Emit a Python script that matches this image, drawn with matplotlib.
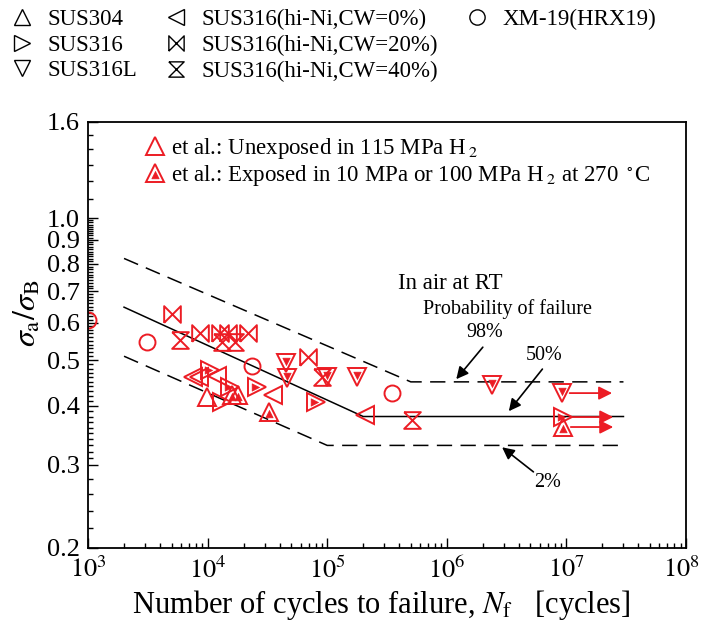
import numpy as np
import matplotlib
matplotlib.use('Agg')
import matplotlib.pyplot as plt
import matplotlib.transforms as mtransforms
from matplotlib.lines import Line2D
from matplotlib.ticker import FixedLocator, NullFormatter, LogLocator

plt.rcParams['font.family'] = 'serif'
plt.rcParams['font.serif'] = ['Liberation Serif', 'DejaVu Serif']
plt.rcParams['mathtext.fontset'] = 'stix'

RED = '#ec1c24'

# ---- data (N cycles, sigma_a/sigma_B) ----
# SUS304
sus304_open_N = [9.9e3]
sus304_open_S = [0.418]
sus304_exp_N = [1.6e4, 1.79e4, 3.25e4, 9.3e6]
sus304_exp_S = [0.422, 0.422, 0.388, 0.361]
# SUS316
sus316_open_N = [1.32e4]
sus316_open_S = [0.408]
sus316_exp_N = [1.04e4, 1.53e4, 2.58e4, 8.0e4, 9.3e6]
sus316_exp_S = [0.477, 0.439, 0.439, 0.408, 0.379]
# SUS316L
sus316l_exp_N = [4.5e4, 4.6e4, 9.9e4, 1.77e5, 2.37e6, 9.1e6]
sus316l_exp_S = [0.493, 0.459, 0.461, 0.461, 0.443, 0.426]
# SUS316 hi-Ni CW=0%
cw0_N = [7.5e3, 8.4e3, 1.2e4, 3.5e4, 2.06e5]
cw0_S = [0.461, 0.461, 0.463, 0.422, 0.383]
# SUS316 hi-Ni CW=20%
cw20_N = [5.0e3, 8.6e3, 1.27e4, 1.48e4, 2.17e4, 6.9e4]
cw20_S = [0.627, 0.571, 0.571, 0.571, 0.571, 0.508]
# SUS316 hi-Ni CW=40%
cw40_N = [5.9e3, 1.32e4, 1.69e4, 9.0e4, 5.1e5]
cw40_S = [0.552, 0.547, 0.547, 0.461, 0.374]
# XM-19
xm19_N = [1.0e3, 3.1e3, 2.34e4, 3.5e5]
xm19_S = [0.608, 0.547, 0.486, 0.426]

# run-outs (arrows)
runout_N = [9.1e6, 9.3e6, 9.3e6]
runout_S = [0.426, 0.379, 0.361]

# S-N curves in air (probability of failure)
p98_N = [2e3, 5e5, 3e7]
p98_S = [0.822, 0.45, 0.45]
p50_N = [2e3, 2e5, 3e7]
p50_S = [0.648, 0.38, 0.38]
p02_N = [2e3, 1e5, 3e7]
p02_S = [0.51, 0.33, 0.33]

xtick_vals = [1e3, 1e4, 1e5, 1e6, 1e7, 1e8]
xtick_labels = [r'$10^{3}$', r'$10^{4}$', r'$10^{5}$', r'$10^{6}$', r'$10^{7}$', r'$10^{8}$']
ytick_vals = [0.2, 0.3, 0.4, 0.5, 0.6, 0.7, 0.8, 0.9, 1.0, 1.6]
ytick_labels = ['0.2', '0.3', '0.4', '0.5', '0.6', '0.7', '0.8', '0.9', '1.0', '1.6']

# ---- marker shapes ----
BOWTIE = [(-1, -1), (-1, 1), (1, -1), (1, 1), (-1, -1)]
HOURGLASS = [(-1, 1), (1, 1), (-1, -1), (1, -1), (-1, 1)]
TRI = {'^': [(0, 1), (-1, -1), (1, -1)],
       'v': [(0, -1), (-1, 1), (1, 1)],
       '>': [(1, 0), (-1, -1), (-1, 1)],
       '<': [(-1, 0), (1, -1), (1, 1)]}

MS = 12.5
MEW = 1.4


def inner_marker(kind, k=0.42):
    v = np.array(TRI[kind], dtype=float)
    c = v.mean(axis=0)
    w = c + k * (v - c)
    scale = np.abs(w).max()
    return [tuple(p) for p in w] + [tuple(w[0])], scale


def open_pts(ax, N, S, marker, color=RED, ms=MS):
    return ax.plot(N, S, linestyle='none', marker=marker, ms=ms, mfc='none',
                   mec=color, mew=MEW)[0]


def double_pts(ax, N, S, kind, color=RED):
    h1 = ax.plot(N, S, linestyle='none', marker=kind, ms=MS, mfc='none',
                 mec=color, mew=MEW)[0]
    verts, sc = inner_marker(kind)
    h2 = ax.plot(N, S, linestyle='none', marker=verts, ms=MS * sc, mfc=color,
                 mec=color, mew=0.5)[0]
    return h1, h2


fig = plt.figure(figsize=(7.02, 6.25), dpi=100)
ax = fig.add_axes([0.1254, 0.1232, 0.8518, 0.6816])
ax.set_xscale('log')
ax.set_yscale('log')

# curves
ax.plot(p98_N, p98_S, color='black', lw=1.1, dashes=(10, 5.5))
ax.plot(p50_N, p50_S, color='black', lw=1.1)
ax.plot(p02_N, p02_S, color='black', lw=1.1, dashes=(10, 5.5))

# data
open_pts(ax, sus304_open_N, sus304_open_S, '^')
double_pts(ax, sus304_exp_N, sus304_exp_S, '^')
open_pts(ax, sus316_open_N, sus316_open_S, '>')
double_pts(ax, sus316_exp_N, sus316_exp_S, '>')
double_pts(ax, sus316l_exp_N, sus316l_exp_S, 'v')
open_pts(ax, cw0_N, cw0_S, '<')
open_pts(ax, cw20_N, cw20_S, BOWTIE, ms=12)
open_pts(ax, cw40_N, cw40_S, HOURGLASS, ms=12)
open_pts(ax, xm19_N, xm19_S, 'o', ms=11.5)

for n, s in zip(runout_N, runout_S):
    ax.annotate('', xy=(n * 2.65, s), xytext=(n * 1.17, s),
                arrowprops=dict(arrowstyle='-|>', color=RED, lw=1.3,
                                mutation_scale=20, shrinkA=0, shrinkB=0))

# annotations
ax.text(3.9e5, 0.726, 'In air at RT', fontsize=16.5, ha='left', va='center')
ax.text(3.23e6, 0.642, 'Probability of failure', fontsize=14.5, ha='center', va='center')
ax.text(2.07e6, 0.574, '98%', fontsize=14.5, ha='center', va='center')
ax.text(6.46e6, 0.513, '50%', fontsize=14.5, ha='center', va='center')
ax.text(6.97e6, 0.276, '2%', fontsize=14.5, ha='center', va='center')
arw = dict(arrowstyle='-|>', color='black', lw=1.2, mutation_scale=18,
           shrinkA=0, shrinkB=0)
ax.annotate('', xy=(1.2e6, 0.456), xytext=(2.0e6, 0.533), arrowprops=arw)
ax.annotate('', xy=(3.3e6, 0.390), xytext=(6.3e6, 0.479), arrowprops=arw)
ax.annotate('', xy=(2.9e6, 0.327), xytext=(5.3e6, 0.290), arrowprops=arw)

# axes
ax.set_xlim(1e3, 1e8)
ax.set_ylim(0.2, 1.6)
ax.set_xticks(xtick_vals)
ax.set_xticklabels(xtick_labels)
ax.xaxis.set_minor_locator(LogLocator(base=10, subs=np.arange(2, 10), numticks=20))
ax.xaxis.set_minor_formatter(NullFormatter())
ax.yaxis.set_major_locator(FixedLocator(ytick_vals))
ax.set_yticklabels(ytick_labels)
minor_y = list(np.arange(0.22, 0.295, 0.02)) + list(np.arange(0.31, 0.995, 0.01)) + \
    list(np.arange(1.1, 1.55, 0.1))
ax.yaxis.set_minor_locator(FixedLocator(minor_y))
ax.yaxis.set_minor_formatter(NullFormatter())
ax.tick_params(which='both', direction='in', top=False, right=False, width=1.0)
ax.tick_params(axis='y', labelsize=19)
ax.tick_params(axis='x', labelsize=19)
ax.tick_params(which='major', length=7, pad=6)
ax.tick_params(which='minor', length=3.5)
for sp in ax.spines.values():
    sp.set_linewidth(1.3)

# nudge the 10^8 label a little so it stays inside the figure
lab = ax.xaxis.get_major_ticks()[-1].label1
lab.set_transform(lab.get_transform() +
                  mtransforms.ScaledTranslation(-3 / 72, 0, fig.dpi_scale_trans))

ax.set_xlabel(r'Number of cycles to failure, $N_\mathrm{f}$   [cycles]', fontsize=22)
ax.xaxis.set_label_coords(0.49, -0.095)
ax.set_ylabel(r'$\sigma_\mathrm{a}/\sigma_\mathrm{B}$', fontsize=23)
ax.yaxis.set_label_coords(-0.075, 0.55)

# inner legend (red)
h_open = Line2D([], [], linestyle='none', marker='^', ms=MS, mfc='none', mec=RED, mew=MEW)
iv, isc = inner_marker('^')
h_in = Line2D([], [], linestyle='none', marker=iv, ms=MS * isc, mfc=RED, mec=RED, mew=0.5)
ax.legend([h_open, (h_open, h_in)],
          [r'et al.: Unexposed in 115 MPa H$\,_2$',
           r'et al.: Exposed in 10 MPa or 100 MPa H$\,_2$ at 270 $^\circ$C'],
          loc='upper left', bbox_to_anchor=(0.091, 0.977), frameon=False,
          fontsize=16.5, handlelength=0.7, handletextpad=0.35, labelspacing=0.05,
          borderpad=0.2, borderaxespad=0)

# top legend (black)
def blk(marker, ms=11.5):
    return Line2D([], [], linestyle='none', marker=marker, ms=ms, mfc='none',
                  mec='black', mew=1.0)


blank = Line2D([], [], linestyle='none')
handles = [blk('^'), blk('>'), blk('v'),
           blk('<'), blk(BOWTIE, 11), blk(HOURGLASS, 11),
           blk('o', 11), blank, blank]
labels = ['SUS304', 'SUS316', 'SUS316L',
          'SUS316(hi-Ni,CW=0%)', 'SUS316(hi-Ni,CW=20%)', 'SUS316(hi-Ni,CW=40%)',
          'XM-19(HRX19)', '', '']
fig.legend(handles, labels, ncol=3, loc='upper left', bbox_to_anchor=(0.012, 0.993),
           frameon=False, fontsize=16.5, handlelength=0.8, handletextpad=0.7,
           labelspacing=0.2, columnspacing=1.3, borderpad=0.2, borderaxespad=0)

fig.savefig('out.png', dpi=100)
